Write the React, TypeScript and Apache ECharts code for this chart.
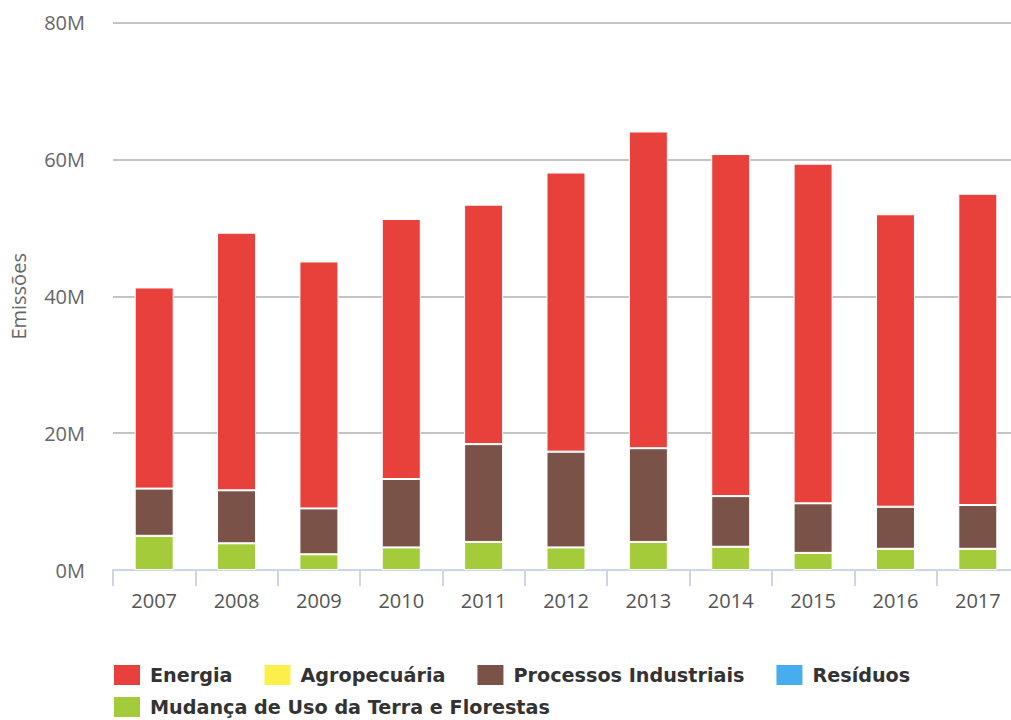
import React, { useEffect, useRef } from "react";
import * as echarts from "echarts";

const years = ["2007", "2008", "2009", "2010", "2011", "2012", "2013", "2014", "2015", "2016", "2017"];
// values in millions
const energia = [29.4, 37.65, 36.1, 38.0, 35.0, 40.8, 46.3, 50.0, 49.65, 42.75, 45.5];
const agropecuaria = [0, 0, 0, 0, 0, 0, 0, 0, 0, 0, 0];
const processos = [6.9, 7.75, 6.7, 10.0, 14.3, 14.0, 13.7, 7.4, 7.25, 6.15, 6.4];
const residuos = [0, 0, 0, 0, 0, 0, 0, 0, 0, 0, 0];
const mudanca = [5.0, 3.9, 2.3, 3.3, 4.1, 3.3, 4.1, 3.4, 2.5, 3.1, 3.1];
const yTicks = { min: 0, max: 80, interval: 20 };

const names = {
  energia: "Energia",
  agro: "Agropecuária",
  proc: "Processos Industriais",
  res: "Resíduos",
  mud: "Mudança de Uso da Terra e Florestas",
};
const colors = {
  energia: "#e8403a",
  agro: "#fcee4b",
  proc: "#7a5247",
  res: "#48adee",
  mud: "#a4cc3a",
};

export default function App() {
  const ref = useRef<HTMLDivElement>(null);
  useEffect(() => {
    if (!ref.current) return;
    const chart = echarts.init(ref.current, null, { renderer: "svg" });
    const mk = (name: string, data: number[], color: string) => ({
      name,
      type: "bar",
      stack: "total",
      data,
      barWidth: 39,
      itemStyle: { color, borderColor: "#ffffff", borderWidth: 1 },
      emphasis: { disabled: true },
    });
    const legendCommon = {
      left: 112,
      orient: "horizontal",
      icon: "rect",
      padding: 0,
      itemWidth: 28,
      itemHeight: 22,
      itemGap: 30,
      textStyle: {
        fontFamily: "DejaVu Sans",
        fontWeight: "bold",
        fontSize: 19.2,
        color: "#333333",
        padding: [0, 0, 0, 4],
      },
    };
    chart.setOption({
      animation: false,
      backgroundColor: "#ffffff",
      grid: {
        left: 113,
        right: -8,
        top: 22.7,
        bottom: 150,
        containLabel: false,
        outerBoundsMode: "none",
      },
      legend: [
        { ...legendCommon, top: 663, data: [names.energia, names.agro, names.proc, names.res] },
        { ...legendCommon, top: 695, data: [names.mud] },
      ],
      xAxis: {
        type: "category",
        data: years,
        axisLine: { lineStyle: { color: "#ccd6eb", width: 2 } },
        axisTick: { show: true, length: 16, lineStyle: { color: "#ccd6eb", width: 2 } },
        axisLabel: {
          fontFamily: "Open Sans",
          fontSize: 20,
          color: "#555555",
          margin: 20,
        },
      },
      yAxis: {
        type: "value",
        min: yTicks.min,
        max: yTicks.max,
        interval: yTicks.interval,
        name: "Emissões",
        nameLocation: "middle",
        nameGap: 85,
        nameTextStyle: { fontFamily: "Open Sans", fontSize: 20, color: "#666666" },
        axisLine: { show: false },
        axisTick: { show: false },
        axisLabel: {
          formatter: "{value}M",
          fontFamily: "Open Sans",
          fontSize: 20,
          color: "#666666",
          margin: 28,
        },
        splitLine: { lineStyle: { color: "#c4c4c4", width: 2 } },
      },
      series: [
        mk(names.mud, mudanca, colors.mud),
        mk(names.res, residuos, colors.res),
        mk(names.proc, processos, colors.proc),
        mk(names.agro, agropecuaria, colors.agro),
        mk(names.energia, energia, colors.energia),
      ],
    });
    return () => chart.dispose();
  }, []);
  return (
    <div
      ref={ref}
      style={{ position: "fixed", left: 0, top: 0, width: 1011, height: 720, background: "#fff" }}
    />
  );
}
